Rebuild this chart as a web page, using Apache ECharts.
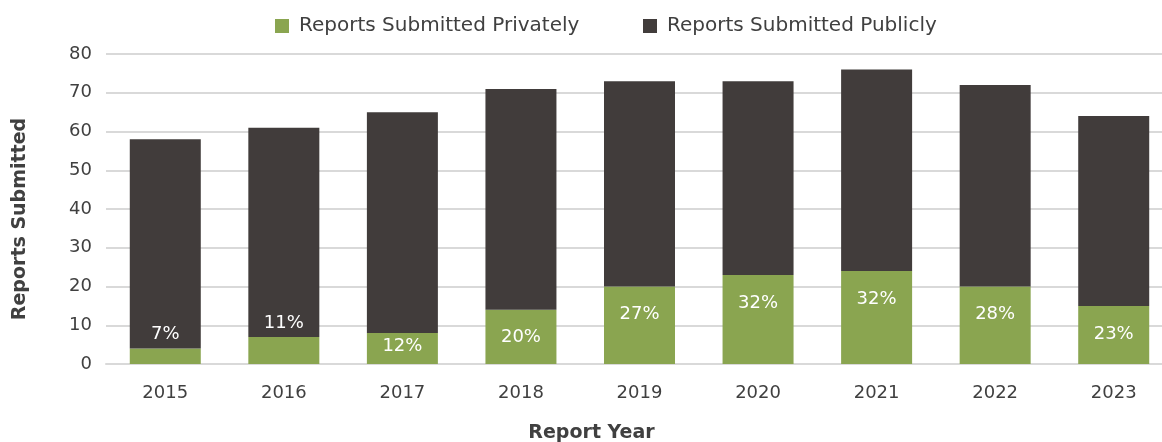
<!DOCTYPE html>
<html><head><meta charset="utf-8">
<script src="https://cdn.jsdelivr.net/npm/echarts@6/dist/echarts.min.js"></script>
<style>html,body{margin:0;padding:0;background:#fff}#c{width:1162px;height:442px}</style>
</head><body><div id="c"></div>
<script>
const years = ['2015','2016','2017','2018','2019','2020','2021','2022','2023'];
const privateReports = [4, 7, 8, 14, 20, 23, 24, 20, 15];
const publicReports = [54, 54, 57, 57, 53, 50, 52, 52, 49];
const privateShare = ['7%','11%','12%','20%','27%','32%','32%','28%','23%'];
const labelPlacement = ['top','top','inside','insideTop','insideTop','insideTop','insideTop','insideTop','insideTop'];
const seriesNames = ['Reports Submitted Privately', 'Reports Submitted Publicly'];

const FONT = '"DejaVu Sans", sans-serif';
const chart = echarts.init(document.getElementById('c'));
const greenData = privateReports.map((v, i) => {
  const pos = labelPlacement[i];
  const lab = { position: pos };
  if (pos === 'top') lab.distance = 5;
  if (pos === 'insideTop') lab.distance = 19;
  if (pos === 'inside') lab.offset = [0, -2];
  return { value: v, label: lab };
});
const legendBase = {
  top: 16, padding: 0, itemWidth: 14, itemHeight: 14, icon: 'rect',
  textStyle: { fontSize: 20, color: '#404040', fontFamily: FONT, padding: [0, 0, 0, 5] }
};
chart.setOption({
  animation: false,
  textStyle: { fontFamily: FONT },
  legend: [
    Object.assign({}, legendBase, { left: 275, data: [seriesNames[0]] }),
    Object.assign({}, legendBase, { left: 643, data: [seriesNames[1]] })
  ],
  grid: { left: 106, right: -11, top: 54, bottom: 78, outerBoundsMode: 'none', containLabel: false },
  xAxis: {
    type: 'category', data: years,
    name: 'Report Year', nameLocation: 'middle', nameGap: 60,
    nameTextStyle: { fontSize: 19, fontWeight: 'bold', color: '#404040', fontFamily: FONT, padding: [0, 96, 0, 0] },
    axisLine: { lineStyle: { color: '#d9d9d9', width: 2 } },
    axisTick: { show: false },
    axisLabel: { fontSize: 18, color: '#404040', margin: 20, fontFamily: FONT }
  },
  yAxis: {
    type: 'value', min: 0, max: 80, interval: 10,
    name: 'Reports Submitted', nameLocation: 'middle', nameGap: 76,
    nameTextStyle: { fontSize: 19, fontWeight: 'bold', color: '#404040', fontFamily: FONT, padding: [0, 20, 0, 0] },
    axisLine: { show: false }, axisTick: { show: false },
    axisLabel: { fontSize: 18, color: '#404040', margin: 14, fontFamily: FONT },
    splitLine: { lineStyle: { color: '#d9d9d9', width: 2 } }
  },
  series: [
    {
      name: seriesNames[0], type: 'bar', stack: 'a', barWidth: 71,
      itemStyle: { color: '#8aa550' },
      label: {
        show: true, color: '#ffffff', fontSize: 18, fontFamily: FONT,
        formatter: p => privateShare[p.dataIndex]
      },
      data: greenData
    },
    {
      name: seriesNames[1], type: 'bar', stack: 'a', barWidth: 71,
      itemStyle: { color: '#413c3b' },
      data: publicReports
    }
  ]
});
</script></body></html>
